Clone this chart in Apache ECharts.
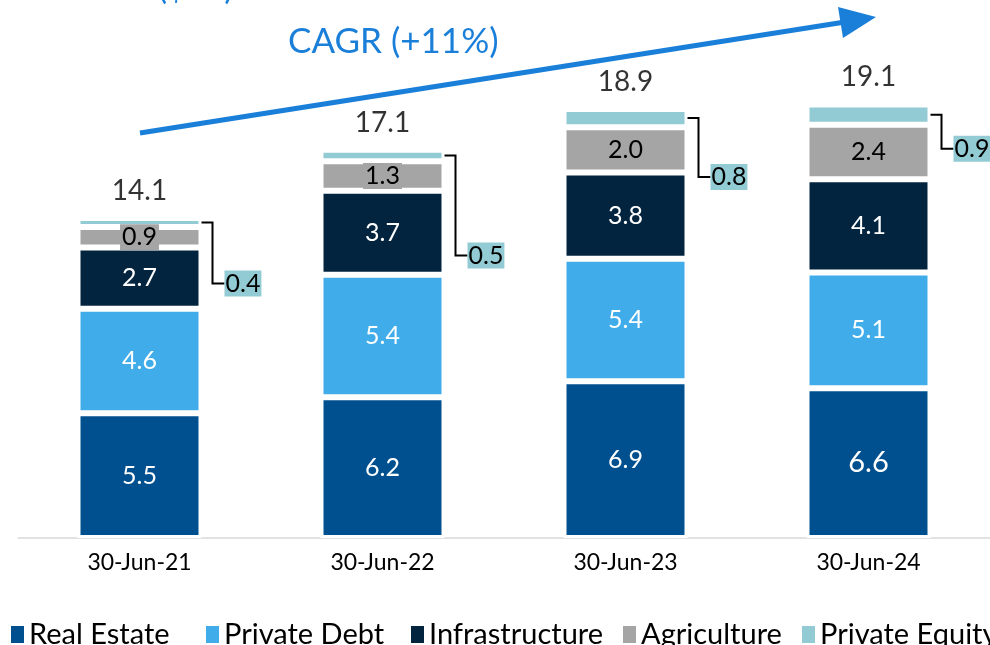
<!DOCTYPE html>
<html>
<head>
<meta charset="utf-8">
<script src="https://cdn.jsdelivr.net/npm/echarts@6/dist/echarts.min.js"></script>
<style>
  html, body { margin: 0; padding: 0; background: #fff; }
  #chartBox { width: 990px; height: 645px; }
</style>
</head>
<body>
<div id="chartBox"></div>
<script>
// 数据
var categories = ['30-Jun-21', '30-Jun-22', '30-Jun-23', '30-Jun-24']
var realEstate = [5.5, 6.2, 6.9, 6.6]
var privateDebt = [4.6, 5.4, 5.4, 5.1]
var infrastructure = [2.7, 3.7, 3.8, 4.1]
var agriculture = [0.9, 1.3, 2.0, 2.4]
var privateEquity = [0.4, 0.5, 0.8, 0.9]
var totals = [14.1, 17.1, 18.9, 19.1]

var seriesNames = ['Real Estate', 'Private Debt', 'Infrastructure', 'Agriculture', 'Private Equity']
// legend item x positions
var legendLeft = [9, 204, 409, 621, 800]
// private equity label drop below the segment (px)
var peDrop = [61, 100, 59, 34]

var font = 'Lato, "Open Sans", sans-serif'
var colors = {
  re: '#00508f',
  pd: '#40adea',
  inf: '#03243f',
  ag: '#a5a5a5',
  pe: '#92cbd3'
}
var BAR_W = 124

function fmt(p) {
  return p.value.toFixed(1)
}

function segment(name, data, color, labelColor, extra) {
  return Object.assign({
    name: name,
    type: 'bar',
    stack: 'fum',
    barWidth: BAR_W,
    data: data,
    itemStyle: { color: color, borderColor: '#fff', borderWidth: 3 },
    label: {
      show: true,
      position: 'inside',
      color: labelColor,
      fontFamily: font,
      fontSize: 25,
      formatter: fmt
    },
    emphasis: { disabled: true }
  }, extra || {})
}

var myChart = echarts.init(document.getElementById('chartBox'))
myChart.setOption({
  animation: false,
  grid: { left: 18, right: 0, top: 84, bottom: 107 },
  legend: seriesNames.map(function (name, i) {
    return {
      data: [name],
      left: legendLeft[i],
      top: 620,
      padding: 0,
      itemWidth: 15,
      itemHeight: 19,
      icon: 'rect',
      selectedMode: false,
      textStyle: { fontFamily: font, fontSize: 29, color: '#000', padding: [0, 0, 0, -1] }
    }
  }),
  xAxis: {
    type: 'category',
    data: categories,
    axisLine: { lineStyle: { color: '#d9d9d9', width: 1.5 } },
    axisTick: { show: false },
    axisLabel: { color: '#000', fontFamily: font, fontSize: 23, margin: 13 }
  },
  yAxis: {
    type: 'value',
    min: 0,
    max: 20,
    show: false,
    splitLine: { show: false }
  },
  graphic: [
    {
      type: 'text',
      left: 158,
      top: -29,
      style: { text: '($bn)', fill: '#1a7fd9', font: '34px ' + font }
    },
    {
      type: 'text',
      left: 288,
      top: 24,
      style: { text: 'CAGR (+11%)', fill: '#1a7fd9', font: '35px ' + font }
    },
    {
      type: 'polyline',
      shape: { points: [[140, 133], [845, 22]] },
      style: { stroke: '#1a7fd9', lineWidth: 5 }
    },
    {
      type: 'polygon',
      shape: { points: [[876, 17], [838, 7], [843, 38]] },
      style: { fill: '#1a7fd9' }
    }
  ],
  series: [
    segment('Real Estate', realEstate.map(function (v, i) {
      return i === 3 ? { value: v, label: { fontSize: 29 } } : v
    }), colors.re, '#fff'),
    segment('Private Debt', privateDebt, colors.pd, '#fff'),
    segment('Infrastructure', infrastructure, colors.inf, '#fff'),
    segment('Agriculture', agriculture, colors.ag, '#000', {
      label: {
        show: true,
        position: 'inside',
        color: '#000',
        fontFamily: font,
        fontSize: 25,
        formatter: fmt,
        backgroundColor: colors.ag,
        padding: [1, 2, 0, 2]
      }
    }),
    segment('Private Equity', privateEquity, colors.pe, '#000', {
      label: { show: false }
    }),
    {
      name: 'Total',
      type: 'scatter',
      symbolSize: 0,
      data: totals,
      silent: true,
      label: {
        show: true,
        position: 'top',
        distance: 13,
        color: '#000',
        fontFamily: font,
        fontSize: 28,
        formatter: fmt
      }
    },
    {
      name: 'PE label',
      type: 'custom',
      silent: true,
      data: privateEquity.map(function (v, i) {
        return [i, totals[i], v, peDrop[i]]
      }),
      renderItem: function (params, api) {
        var i = api.value(0)
        var total = api.value(1)
        var pe = api.value(2)
        var drop = api.value(3)
        var p = api.coord([i, total - pe / 2])
        var edge = p[0] + BAR_W / 2
        var y0 = p[1]
        var y1 = y0 + drop
        return {
          type: 'group',
          children: [
            {
              type: 'polyline',
              shape: { points: [[edge - 6, y0], [edge + 11, y0], [edge + 11, y1], [edge + 23, y1]] },
              style: { stroke: '#000', lineWidth: 2, fill: null }
            },
            {
              type: 'text',
              x: edge + 23,
              y: y1,
              style: {
                text: pe.toFixed(1),
                fill: '#000',
                font: '25px ' + font,
                verticalAlign: 'middle',
                align: 'left',
                backgroundColor: colors.pe,
                padding: [1, 1, 0, 1]
              }
            }
          ]
        }
      }
    }
  ]
})
</script>
</body>
</html>
